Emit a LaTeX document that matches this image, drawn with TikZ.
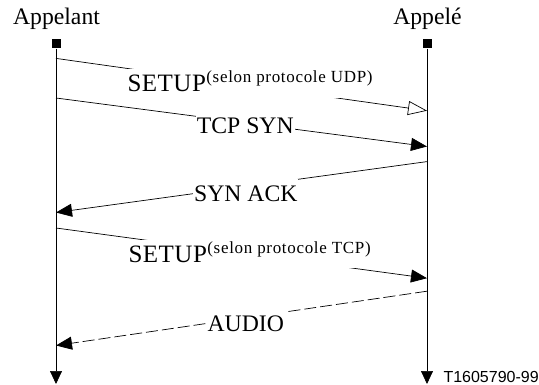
\documentclass[tikz,border=0pt]{standalone}
\usepackage{fontspec}
\setmainfont{Liberation Serif}
\newfontfamily\supfont[LetterSpace=4]{Liberation Serif}
\newfontfamily\setupfont[LetterSpace=2]{Liberation Serif}
\newfontfamily\figfont{Liberation Sans}
\usetikzlibrary{arrows.meta}
\begin{document}
\begin{tikzpicture}[x=1pt,y=-1pt,
  life/.style={line width=0.7pt},
  msg/.style={line width=0.7pt},
  filltip/.style={-{Triangle[length=16pt,width=13pt]}},
  opentip/.style={-{Triangle[open,length=19pt,width=14pt,fill=white]}},
  endtip/.style={-{Triangle[length=13pt,width=12pt]}},
  mainfont/.style={font=\fontsize{23.7}{28}\selectfont},
  lbl/.style={mainfont,fill=white,inner xsep=1pt,inner ysep=2pt,text height=21pt,text depth=3pt,anchor=base},
  suplbl/.style={mainfont,fill=white,inner xsep=1pt,inner ysep=2pt,text depth=4pt,anchor=base west},
  head/.style={mainfont,anchor=base,inner sep=0pt},
  sq/.style={fill=black,minimum size=9pt,inner sep=0pt},
  fig/.style={font=\figfont\fontsize{16}{18}\selectfont,anchor=base west,inner sep=0pt}]
\useasboundingbox (0,0) rectangle (539,385);

% headers
\node[head] (appelant) at (56.5,25) {Appelant};
\node[head] (appele) at (427.5,25) {Appelé};

% lifelines
\node[sq] (Lsq) at (56,44) {};
\node[sq] (Rsq) at (427,44) {};
\coordinate (Lend) at (56,384);
\coordinate (Rend) at (427,384);
\draw[life,endtip] (Lsq.south) -- (Lend);
\draw[life,endtip] (Rsq.south) -- (Rend);

% message end points
\coordinate (a1) at (56,58.4);   \coordinate (b1) at (427,110.7);
\coordinate (a2) at (56,98);     \coordinate (b2) at (427,146.5);
\coordinate (b3) at (427,161.6); \coordinate (a3) at (56,212.5);
\coordinate (a4) at (56,228);    \coordinate (b4) at (427,278.2);
\coordinate (b5) at (427,291.2); \coordinate (a5) at (56,345.5);

% messages
\draw[msg,opentip] (a1) -- (b1);
\draw[msg,filltip] (a2) -- (b2);
\draw[msg,filltip] (b3) -- (a3);
\draw[msg,filltip] (a4) -- (b4);
\draw[msg,filltip,dash pattern=on 12pt off 4pt] (b5) -- (a5);

% labels
\node[suplbl] (m1) at (126.3,91.7) {{\setupfont\fontsize{25}{28}\selectfont SETUP}\hspace{0.5pt}\raisebox{9pt}{\supfont\fontsize{17}{17}\selectfont(selon protocole UDP)}};
\node[lbl] (m2) at (245.3,133.3) {TCP SYN};
\node[lbl] (m3) at (245.8,201.7) {SYN ACK};
\node[suplbl] (m4) at (127.3,262.3) {{\setupfont\fontsize{25}{28}\selectfont SETUP}\hspace{0.5pt}\raisebox{9pt}{\supfont\fontsize{17}{17}\selectfont(selon protocole TCP)}};
\node[lbl] (m5) at (245.8,331) {AUDIO};

\node[fig] (ref) at (443.3,382.5) {T1605790-99};
\end{tikzpicture}
\end{document}
